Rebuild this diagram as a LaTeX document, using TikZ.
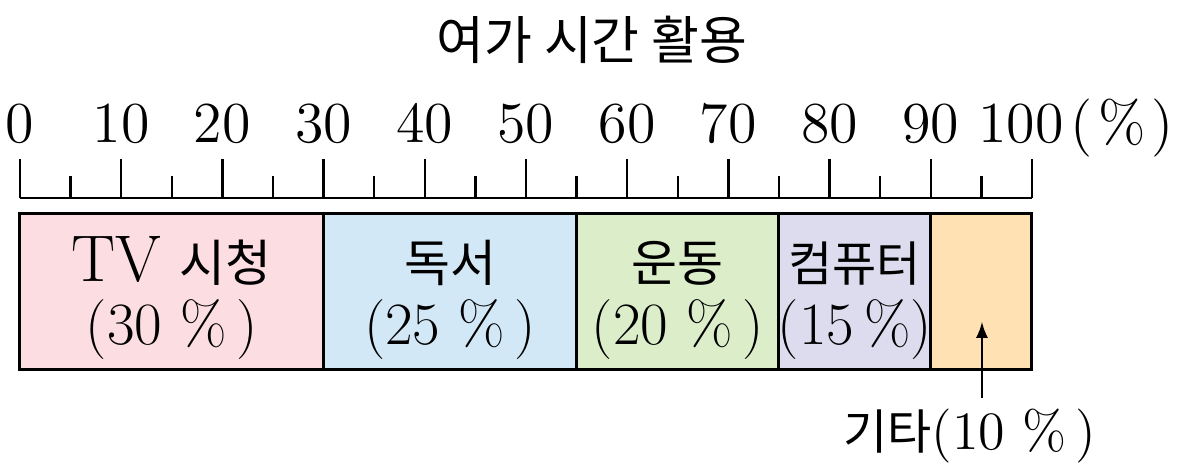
\documentclass[tikz,border=0pt]{standalone}
\usepackage{fontspec}
\newfontfamily\kr{Noto Sans CJK KR}
\usetikzlibrary{arrows,positioning}
\definecolor{tvcolor}{RGB}{251,221,226}
\definecolor{bookcolor}{RGB}{211,232,246}
\definecolor{sportcolor}{RGB}{220,237,201}
\definecolor{pccolor}{RGB}{221,220,238}
\definecolor{etccolor}{RGB}{255,225,179}

\begin{document}
\begin{tikzpicture}[%
    x=0.25pt, y=-0.25pt,        % one unit per pixel, y runs down
    >=latex,
    ]
\tikzset{
  seg/.style={draw, line width=0.75pt},
  tick/.style={line width=0.6pt},
  num/.style={anchor=base, inner sep=0pt, font=\fontsize{14.5}{14.5}\selectfont},
  lbl/.style={anchor=base, inner sep=0pt, align=center, font=\fontsize{15}{15.75}\selectfont},
  krlbl/.style={font=\fontsize{13}{13}\kr},
}
\useasboundingbox (0,0) rectangle (1183,468);

% title
\node [krlbl] (title) at (592,40) {여가 시간 활용};

% axis
\foreach \i in {0,10,...,100}
  \draw [tick] (20+10.12*\i,159) -- (20+10.12*\i,198);
\foreach \i in {5,15,...,95}
  \draw [tick] (20+10.12*\i,176) -- (20+10.12*\i,198);
\draw [tick] (20,198) -- (1032,198);
\foreach \i in {0,10,...,90}
  \node [num] (n\i) at (20+10.12*\i,143) {\i};
\node [num] (n100) at (1021,143) {100};
\node [num] (unit) at (1122,143) {(\hspace{1.5pt}\%\hspace{1.5pt})};

% bar
\draw [seg, fill=tvcolor]    (20,214)    rectangle (323.6,370);
\draw [seg, fill=bookcolor]  (323.6,214) rectangle (576.6,370);
\draw [seg, fill=sportcolor] (576.6,214) rectangle (779,370);
\draw [seg, fill=pccolor]    (779,214)   rectangle (930.8,370);
\draw [seg, fill=etccolor]   (930.8,214) rectangle (1032,370);

\node [lbl] (tv)    at (171.8,345) {{\fontsize{16.5}{16.5}\selectfont TV} {\kr\fontsize{12.5}{12.5}\selectfont 시청}\\(30 \%\,)};
\node [lbl] (book)  at (450.1,345) {{\kr\fontsize{12.5}{12.5}\selectfont 독서}\\(25 \%\,)};
\node [lbl] (sport) at (677.8,345) {{\kr\fontsize{12.5}{12.5}\selectfont 운동}\\(20 \%\,)};
\node [lbl] (pc)    at (854.9,345) {{\kr\fontsize{12}{12}\selectfont 컴퓨터}\\(15\,\%)};

% others
\coordinate (etctip) at (982,322);
\coordinate (etcfoot) at (982,398);
\node [lbl, font=\fontsize{13.5}{13.5}\selectfont] (etc) at (970,450) {{\kr\fontsize{12}{12}\selectfont 기타}(10 \%\,)};
\draw [->, line width=0.4pt] (etcfoot) -- (etctip);

\end{tikzpicture}
\end{document}
